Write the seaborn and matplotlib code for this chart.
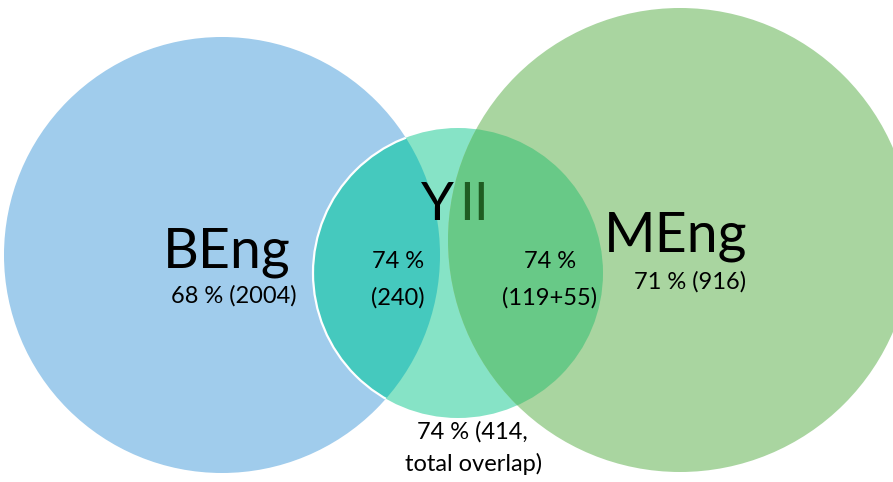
import matplotlib
matplotlib.use("Agg")
import matplotlib.pyplot as plt
from matplotlib.patches import Circle
import seaborn as sns

# data
set_names = ["BEng", "YII", "MEng"]
set_pct = [68, 74, 71]
set_counts = ["2004", "414", "916"]
overlap_pct = [74, 74]
overlap_counts = ["240", "119+55"]

sns.set_theme(style="white")
plt.rcParams["font.family"] = ["Lato", "DejaVu Sans"]
plt.rcParams["text.color"] = "black"

fill = {"blue": "#A0CCEC", "green": "#A9D5A0", "teal": "#86E3C6",
        "teal_blue": "#45C9BE", "teal_green": "#68C987"}

fig = plt.figure(figsize=(8.93, 4.82), dpi=100)
ax = fig.add_axes([0, 0, 1, 1])
ax.set_xlim(0, 893)
ax.set_ylim(482, 0)
ax.set_aspect("equal")
ax.axis("off")

# circles (pixel layout)
blue = Circle((222, 255), 218, facecolor=fill["blue"], edgecolor="none", zorder=1)
teal = Circle((458, 273), 145, facecolor=fill["teal"], edgecolor="none", zorder=2)
green = Circle((680, 240), 232, facecolor=fill["green"], edgecolor="none", zorder=3)
for c in (blue, teal, green):
    ax.add_patch(c)

# overlaps
tb = Circle((222, 255), 218, facecolor=fill["teal_blue"], edgecolor="none", zorder=4)
ax.add_patch(tb)
tb.set_clip_path(teal)
tg = Circle((680, 240), 232, facecolor=fill["teal_green"], edgecolor="none", zorder=4)
ax.add_patch(tg)
tg.set_clip_path(teal)

# white rim of the YII circle, only visible over BEng
rim = Circle((458, 273), 145, facecolor="none", edgecolor="white", lw=1.6, zorder=5)
ax.add_patch(rim)
rim.set_clip_path(blue)

big = 40
small = 17

# BEng
ax.text(227, 253, set_names[0], fontsize=big, ha="center", va="center", zorder=6)
ax.text(234, 296, f"{set_pct[0]} % ({set_counts[0]})", fontsize=small, ha="center", va="center", zorder=6)

# YII: the part under the green circle looks dark green
ax.text(437, 206, set_names[1][0], fontsize=38, ha="center", va="center", zorder=6)
ax.text(474, 206, set_names[1][1:], fontsize=38, ha="center", va="center",
        color="#1F5C22", zorder=6)

# MEng
ax.text(676, 237, set_names[2], fontsize=big, ha="center", va="center", zorder=6)
ax.text(690, 282, f"{set_pct[2]} % ({set_counts[2]})", fontsize=small, ha="center", va="center", zorder=6)

# overlaps
ax.text(398, 262, f"{overlap_pct[0]} %", fontsize=small, ha="center", va="center", zorder=6)
ax.text(398, 298, f"({overlap_counts[0]})", fontsize=small, ha="center", va="center", zorder=6)
ax.text(550, 262, f"{overlap_pct[1]} %", fontsize=small, ha="center", va="center", zorder=6)
ax.text(550, 298, f"({overlap_counts[1]})", fontsize=small, ha="center", va="center", zorder=6)

# total
ax.text(472, 432, f"{set_pct[1]} % ({set_counts[1]},", fontsize=small, ha="center", va="center", zorder=6)
ax.text(474, 464, "total overlap)", fontsize=small, ha="center", va="center", zorder=6)

fig.savefig("out.png", dpi=100)
